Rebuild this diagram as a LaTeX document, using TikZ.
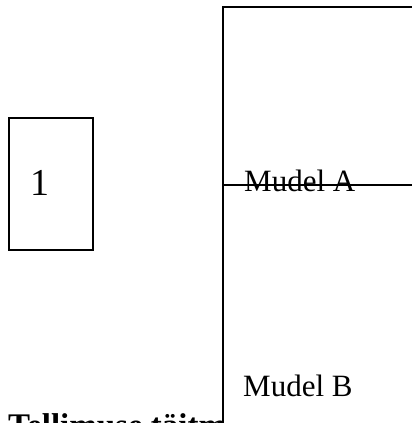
\documentclass[tikz,border=0pt]{standalone}
\usepackage{fontspec}
\setmainfont{Liberation Serif}
\begin{document}
\begin{tikzpicture}[x=1pt,y=-1pt,
  frame/.style={draw, line width=1.8pt, fill=white},
  stepbox/.style={draw, line width=1.8pt, rectangle, inner sep=0pt},
  label/.style={inner sep=0pt, anchor=base west}]
\useasboundingbox (0,0) rectangle (412,423);
\clip (0,0) rectangle (412,423);
% title beneath the lane frame
\node[label, font=\fontsize{33}{36}\selectfont\bfseries] (title) at (8,436) {Tellimuse täitmine};
% lane frame with two lanes
\node[frame, rectangle, minimum width=230pt, minimum height=178pt, anchor=north west] (laneA) at (222,6) {};
\node[frame, rectangle, minimum width=230pt, minimum height=280pt, anchor=north west] (laneB) at (222,184) {};
\node[label, font=\fontsize{31}{34}\selectfont] (mudelA) at (244,191) {Mudel A};
\node[label, font=\fontsize{31}{34}\selectfont] (mudelB) at (243,396) {Mudel B};
% numbered box
\node[stepbox, minimum width=84pt, minimum height=132pt] (box1) at (51,184) {};
\node[label, font=\fontsize{38}{40}\selectfont] (one) at (30,195) {1};
\end{tikzpicture}
\end{document}
